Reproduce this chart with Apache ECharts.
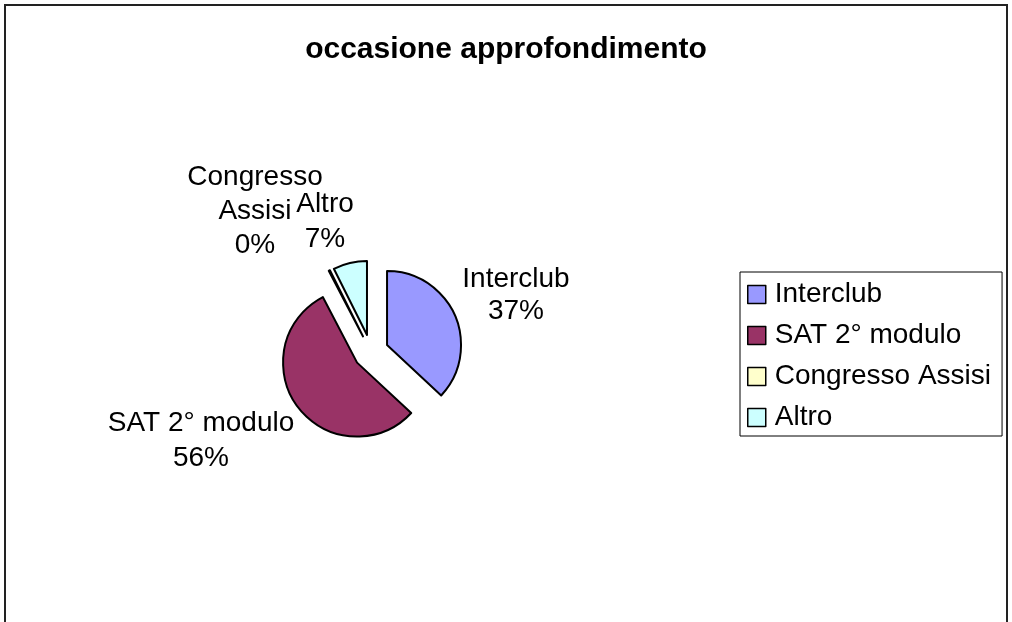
<!DOCTYPE html>
<html>
<head>
<meta charset="utf-8">
<title>occasione approfondimento</title>
<script src="https://cdn.jsdelivr.net/npm/echarts@6/dist/echarts.min.js"></script>
<style>
  html, body { margin: 0; padding: 0; background: #fff; }
  #main { width: 1012px; height: 622px; }
</style>
</head>
<body>
<div id="main"></div>
<script>
  // dati
  var categories = ['Interclub', 'SAT 2° modulo', 'Congresso Assisi', 'Altro'];
  var values = [10, 15, 0, 2];
  var colors = ['#9999FF', '#993366', '#FFFFCC', '#CCFFFF'];
  // testo delle etichette (a capo come nell'originale)
  var labelNames = ['Interclub', 'SAT 2° modulo', 'Congresso\nAssisi', 'Altro'];

  // centro delle etichette e interlinea
  var labelPos = [[516, 295], [201, 441], [255, 211], [325, 222]];
  var labelLH = [32, 35, 34, 35];

  var font = "'Liberation Sans', Arial, sans-serif";

  var chart = echarts.init(document.getElementById('main'));

  var total = values.reduce(function (a, b) { return a + b; }, 0);

  var pieData = categories.map(function (name, i) {
    return {
      name: name,
      value: values[i],
      selected: true,
      itemStyle: { color: colors[i] }
    };
  });

  var labels = categories.map(function (name, i) {
    var pct = Math.round(values[i] / total * 100);
    return {
      type: 'text',
      x: labelPos[i][0],
      y: labelPos[i][1],
      silent: true,
      style: {
        text: labelNames[i] + '\n' + pct + '%',
        fontFamily: font,
        fontSize: 28,
        lineHeight: labelLH[i],
        fill: '#000',
        align: 'center',
        verticalAlign: 'middle'
      }
    };
  });

  var option = {
    animation: false,
    title: {
      text: 'occasione approfondimento',
      left: 'center',
      top: 30,
      textStyle: { fontFamily: font, fontWeight: 'bold', fontSize: 30, color: '#000' }
    },
    legend: {
      orient: 'vertical',
      left: 740,
      top: 272,
      padding: [7, 11, 3, 7],
      borderColor: '#000',
      borderWidth: 1,
      itemGap: 10,
      itemWidth: 18,
      itemHeight: 18,
      icon: 'rect',
      selectedMode: false,
      itemStyle: { borderColor: '#000', borderWidth: 1.5 },
      textStyle: { fontFamily: font, fontSize: 28, color: '#000', lineHeight: 31, padding: [0, 0, 0, 4] },
      data: categories
    },
    graphic: [{
      type: 'rect',
      shape: { x: 5, y: 5, width: 1002, height: 700 },
      style: { fill: 'none', stroke: '#222', lineWidth: 2 },
      silent: true
    }].concat(labels),
    series: [{
      type: 'pie',
      center: [371, 352],
      radius: 74,
      startAngle: 90,
      clockwise: true,
      minAngle: 1,
      selectedMode: 'multiple',
      selectedOffset: 17.5,
      itemStyle: { borderColor: '#000', borderWidth: 2 },
      emphasis: { disabled: true },
      label: { show: false },
      labelLine: { show: false },
      data: pieData
    }]
  };

  chart.setOption(option);
</script>
</body>
</html>
